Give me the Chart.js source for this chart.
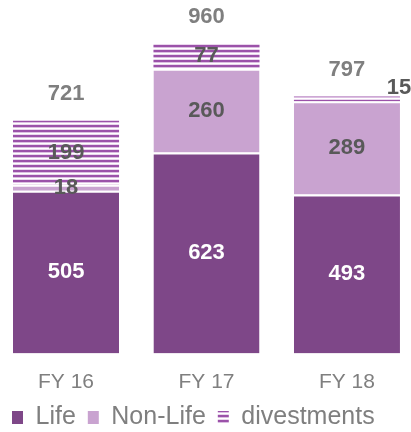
<!DOCTYPE html>
<html>
<head>
<meta charset="utf-8">
<script src="https://cdn.jsdelivr.net/npm/chart.js@4.4.0/dist/chart.umd.min.js"></script>
<style>
  html, body { margin: 0; padding: 0; background: #fff; }
  canvas { display: block; }
</style>
</head>
<body>
<canvas id="barChart" width="411" height="432"></canvas>
<script>
var labels = ['FY 16', 'FY 17', 'FY 18'];
var lifeData = [505, 623, 493];
var nonLifeData = [18, 260, 289];
var divestData = [199, 77, 15];
var totals = [721, 960, 797];

var FONT = '"Liberation Sans", Arial, sans-serif';

// horizontal stripes for the divestments segment
function makeStripes(ctx) {
    var c = document.createElement('canvas');
    c.width = 4;
    c.height = 5;
    var g = c.getContext('2d');
    var rows = ['#9b52a9', '#9b52a9', '#dcbfe2', '#ffffff', '#ead7ed'];
    for (var i = 0; i < rows.length; i++) {
        g.fillStyle = rows[i];
        g.fillRect(0, i, 4, 1);
    }
    return ctx.createPattern(c, 'repeat');
}

// bars sit on a linear x so the outer margins can be trimmed like the original
function toPoints(values) {
    return values.map(function(v, i) { return { x: i, y: v }; });
}

var valueLabels = {
    id: 'valueLabels',
    afterDatasetsDraw: function(chart) {
        var ctx = chart.ctx;
        ctx.save();
        ctx.textAlign = 'center';
        ctx.textBaseline = 'middle';
        ctx.font = 'bold 22px ' + FONT;
        chart.data.datasets.forEach(function(ds, di) {
            var meta = chart.getDatasetMeta(di);
            meta.data.forEach(function(bar, i) {
                var p = bar.getProps(['x', 'y', 'base', 'width'], true);
                var h = p.base - p.y;
                var v = ds.data[i].y;
                ctx.fillStyle = di === 0 ? '#ffffff' : '#595959';
                if (h < 5) {
                    // too thin, label goes to the bar's right edge
                    ctx.fillText(v, p.x + p.width / 2 - 1, p.y - 9);
                } else {
                    ctx.fillText(v, p.x, (p.y + p.base) / 2);
                }
            });
        });

        var last = chart.getDatasetMeta(chart.data.datasets.length - 1);
        ctx.fillStyle = '#7f7f7f';
        last.data.forEach(function(bar, i) {
            var p = bar.getProps(['x', 'y'], true);
            ctx.fillText(totals[i], p.x, p.y - 27);
        });
        ctx.restore();
    }
};

var ctx = document.getElementById('barChart').getContext('2d');
var stripes = makeStripes(ctx);
var topBorder = { top: 2, left: 0, right: 0, bottom: 0 };

var chart = new Chart(ctx, {
    type: 'bar',
    data: {
        datasets: [
            { label: 'Life', data: toPoints(lifeData), backgroundColor: '#7e4788', borderColor: '#ffffff', borderWidth: topBorder, borderSkipped: false },
            { label: 'Non-Life', data: toPoints(nonLifeData), backgroundColor: '#c9a3d0', borderColor: '#ffffff', borderWidth: topBorder, borderSkipped: false },
            { label: 'divestments', data: toPoints(divestData), backgroundColor: stripes, borderWidth: 0 }
        ]
    },
    options: {
        responsive: false,
        animation: false,
        barPercentage: 0.755,
        categoryPercentage: 1,
        layout: { padding: { left: 0, right: 0, top: 31, bottom: -8 } },
        scales: {
            x: {
                type: 'linear',
                stacked: true,
                offset: false,
                min: -0.47,
                max: 2.456,
                grid: { display: false, drawTicks: false },
                border: { display: false },
                afterFit: function(scale) { scale.height = 39.5; },
                ticks: {
                    stepSize: 1,
                    includeBounds: false,
                    autoSkip: false,
                    maxRotation: 0,
                    color: '#7f7f7f',
                    padding: 18,
                    font: { family: FONT, size: 21, lineHeight: 1 },
                    callback: function(v) { return Number.isInteger(v) ? labels[v] : ''; }
                }
            },
            y: {
                stacked: true,
                display: false,
                min: 0,
                max: 1000
            }
        },
        plugins: {
            tooltip: { enabled: false },
            legend: {
                position: 'bottom',
                align: 'start',
                labels: {
                    boxWidth: 11,
                    boxHeight: 13,
                    padding: 12,
                    color: '#7f7f7f',
                    font: { family: FONT, size: 25, lineHeight: 1 },
                    generateLabels: function(chart) {
                        var items = Chart.defaults.plugins.legend.labels.generateLabels(chart);
                        items.forEach(function(it) {
                            it.lineWidth = 0;
                            it.strokeStyle = 'rgba(0,0,0,0)';
                        });
                        return items;
                    }
                }
            }
        }
    },
    plugins: [valueLabels]
});
</script>
</body>
</html>
